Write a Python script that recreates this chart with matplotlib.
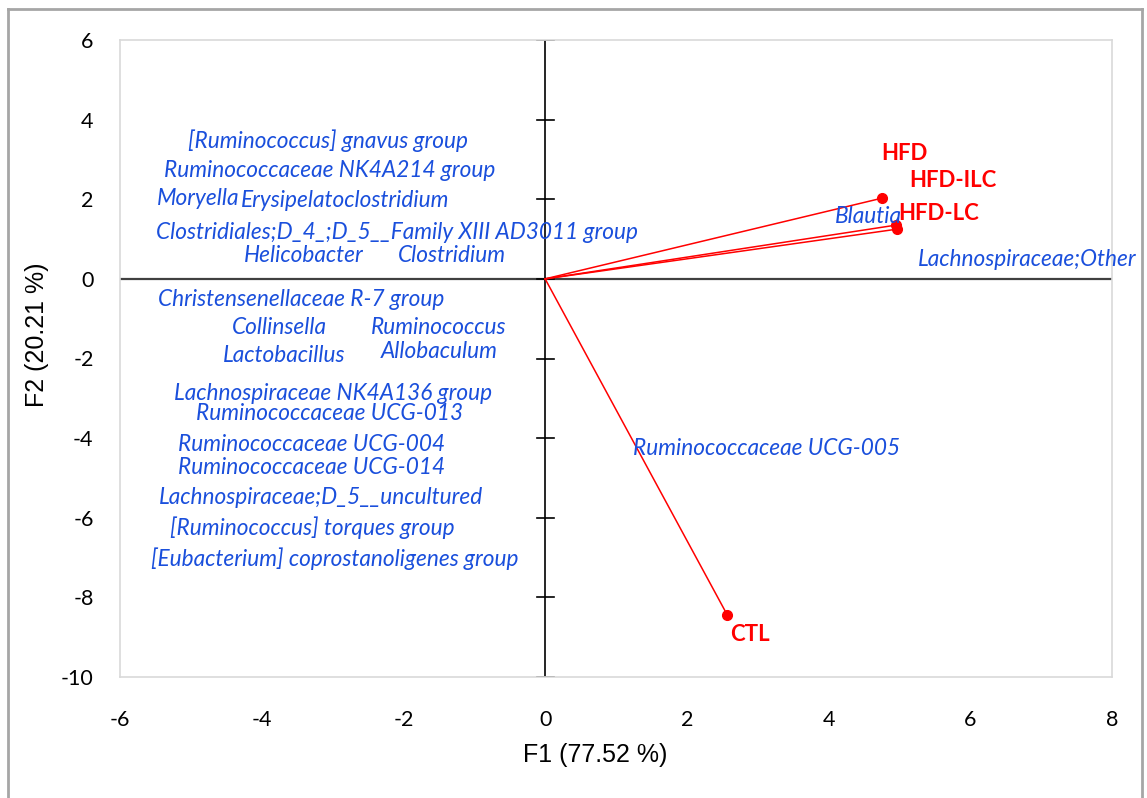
import matplotlib.pyplot as plt
import matplotlib.lines as mlines

plt.rcParams['axes.unicode_minus'] = False

# observations (red vectors)
obs_names = ['HFD', 'HFD-ILC', 'HFD-LC', 'CTL']
obs_x = [4.76, 4.95, 4.97, 2.57]
obs_y = [2.03, 1.35, 1.25, -8.44]
obs_offsets = [(16, 32), (41, 32), (30, 11), (16, -14)]  # label offset in points

# genera (blue labels)
genera = ['[Ruminococcus] gnavus group', 'Ruminococcaceae NK4A214 group', 'Moryella',
          'Erysipelatoclostridium', 'Clostridiales;D_4_;D_5__Family XIII AD3011 group',
          'Helicobacter', 'Clostridium', 'Blautia', 'Lachnospiraceae;Other',
          'Christensenellaceae R-7 group', 'Collinsella', 'Ruminococcus', 'Lactobacillus',
          'Allobaculum', 'Lachnospiraceae NK4A136 group', 'Ruminococcaceae UCG-013',
          'Ruminococcaceae UCG-004', 'Ruminococcaceae UCG-014',
          'Lachnospiraceae;D_5__uncultured', '[Ruminococcus] torques group',
          '[Eubacterium] coprostanoligenes group', 'Ruminococcaceae UCG-005']
gen_x = [-3.07, -3.04, -4.90, -2.83, -2.09, -3.40, -1.31, 4.56, 6.81,
         -3.44, -3.75, -1.51, -3.68, -1.49, -2.99, -3.04, -3.30, -3.30,
         -3.17, -3.28, -2.97, 3.13]
gen_y = [3.47, 2.71, 2.01, 1.98, 1.16, 0.58, 0.58, 1.56, 0.48,
         -0.53, -1.23, -1.23, -1.93, -1.83, -2.89, -3.37, -4.17, -4.75,
         -5.50, -6.26, -7.04, -4.27]

xticks = [-6, -4, -2, 0, 2, 4, 6, 8]
yticks = [6, 4, 2, 0, -2, -4, -6, -8, -10]

BLUE = '#1a4fdc'
RED = '#ff0000'

fig = plt.figure(figsize=(11.47, 7.98), dpi=100)
ax = fig.add_axes([120 / 1147, 121 / 798, 992 / 1147, 637 / 798])
ax.set_xlim(-6, 8)
ax.set_ylim(-10, 6)

for s in ax.spines.values():
    s.set_color('#d9d9d9')
    s.set_linewidth(1.2)

ax.set_xticks(xticks)
ax.set_yticks(yticks)
ax.tick_params(length=0, labelsize=15.5)
for lab in ax.get_xticklabels() + ax.get_yticklabels():
    lab.set_family('Lato')
ax.tick_params(axis='x', pad=24)
ax.tick_params(axis='y', pad=19)

# axes through origin
ax.axhline(0, color='#404040', lw=1.6, zorder=2)
ax.axvline(0, color='black', lw=1.2, zorder=2)
for t in yticks:
    ax.plot([-0.12, 0.12], [t, t], color='black', lw=1.2, zorder=2)

# red vectors
for name, x, y, off in zip(obs_names, obs_x, obs_y, obs_offsets):
    ax.plot([0, x], [0, y], color=RED, lw=1.1, zorder=3)
    ax.plot(x, y, 'o', color=RED, ms=7, zorder=4)
    ax.annotate(name, (x, y), xytext=off, textcoords='offset points',
                ha='center', va='center', color=RED, fontsize=16,
                fontweight='bold', family='Lato', zorder=5)

for name, x, y in zip(genera, gen_x, gen_y):
    ax.text(x, y, name, ha='center', va='center', color=BLUE, fontsize=16.3,
            style='italic', family='Lato', zorder=5, clip_on=False)

fig.text(595 / 1147, 1 - 755 / 798, 'F1 (77.52 %)', ha='center', va='center',
         fontsize=18, family='Liberation Sans')
fig.text(37 / 1147, 1 - 335 / 798, 'F2 (20.21 %)', ha='center', va='center',
         fontsize=18, family='Liberation Sans', rotation=90)

# outer chart border (pixel coords from top-left)
for xs, ys in [([8, 8], [9, 810]), ([8, 1142], [9, 9]), ([1142, 1142], [9, 810])]:
    fig.add_artist(mlines.Line2D([v / 1147 for v in xs], [1 - v / 798 for v in ys],
                                 color='#a6a6a6', lw=2, zorder=10))

fig.savefig('out.png', dpi=100)
